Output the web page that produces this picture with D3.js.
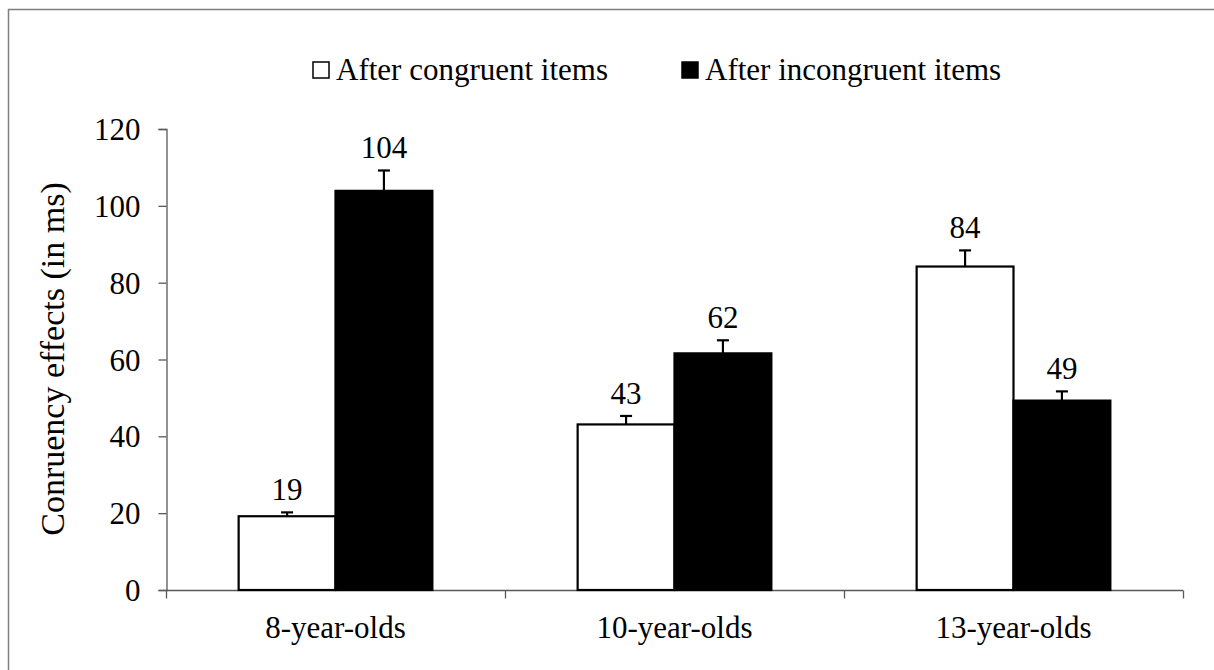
<!DOCTYPE html>
<html>
<head>
<meta charset="utf-8">
<script src="https://cdn.jsdelivr.net/npm/d3@7"></script>
</head>
<body style="margin:0">
<svg id="chart" width="1214" height="670"></svg>
<script>
// chart data
const groups = ["8-year-olds", "10-year-olds", "13-year-olds"]
const series = ["After congruent items", "After incongruent items"]
const congruent = [19.2, 43.1, 84.2]
const incongruent = [103.9, 61.6, 49.3]
const congruentErr = [1.0, 2.2, 4.2]
const incongruentErr = [5.3, 3.4, 2.4]
const labels = [["19", "104"], ["43", "62"], ["84", "49"]]
const yTicks = [0, 20, 40, 60, 80, 100, 120]
const fills = ["#fff", "#000"]

const svg = d3.select("#chart")

// outer frame (runs off the right/bottom edge like the original)
svg.append("rect").attr("x", 8.5).attr("y", 9.5).attr("width", 1400).attr("height", 900)
  .attr("fill", "none").attr("stroke", "#7f7f7f").attr("stroke-width", 1.5)

let x = d3.scaleBand().domain(groups).range([166, 1183]).padding(0)
let xSub = d3.scaleBand().domain(series).range([0, x.bandwidth()]).paddingInner(0).paddingOuter(0.75)
let y = d3.scaleLinear().domain([0, 120]).range([590, 129])

// y axis
let yAxis = d3.axisLeft(y).tickValues(yTicks).tickSize(8).tickPadding(18)
let gy = svg.append("g").attr("transform", "translate(166.5,0)").call(yAxis)
gy.attr("font-family", null).attr("font-size", null)
gy.select(".domain").attr("stroke", "#595959").attr("stroke-width", 1.3)
gy.selectAll(".tick line").attr("stroke", "#595959").attr("stroke-width", 1.3)
gy.selectAll("text").attr("dy", "0.34em")

// x axis - ticks sit on the group boundaries
let gx = svg.append("g").attr("transform", "translate(0,590.5)")
gx.append("line").attr("x1", 166).attr("x2", 1183).attr("stroke", "#595959").attr("stroke-width", 1.3)
let bounds = [x(groups[0])].concat(groups.map(g => x(g) + x.bandwidth()))
gx.selectAll(".bt").data(bounds).join("line")
  .attr("x1", d => d + 0.5).attr("x2", d => d + 0.5).attr("y1", 0).attr("y2", 8)
  .attr("stroke", "#595959").attr("stroke-width", 1.3)
gx.selectAll(".cat").data(groups).join("text")
  .attr("x", d => x(d) + x.bandwidth() / 2).attr("y", 47)
  .attr("text-anchor", "middle").text(d => d)

// bars
const rows = []
groups.forEach((g, i) => {
  rows.push({ g, s: series[0], v: congruent[i], e: congruentErr[i], lab: labels[i][0], k: 0 })
  rows.push({ g, s: series[1], v: incongruent[i], e: incongruentErr[i], lab: labels[i][1], k: 1 })
})

svg.selectAll(".bar").data(rows).join("rect")
  .attr("x", d => x(d.g) + xSub(d.s))
  .attr("y", d => y(d.v))
  .attr("width", xSub.bandwidth())
  .attr("height", d => y(0) - y(d.v))
  .attr("fill", d => fills[d.k]).attr("stroke", "#000").attr("stroke-width", 2.2)

// error bars
let cx = d => x(d.g) + xSub(d.s) + xSub.bandwidth() / 2
svg.selectAll(".err").data(rows).join("line")
  .attr("x1", cx).attr("x2", cx).attr("y1", d => y(d.v)).attr("y2", d => y(d.v + d.e))
  .attr("stroke", "#000").attr("stroke-width", 2.2)
svg.selectAll(".cap").data(rows).join("line")
  .attr("x1", d => cx(d) - 6).attr("x2", d => cx(d) + 6)
  .attr("y1", d => y(d.v + d.e)).attr("y2", d => y(d.v + d.e))
  .attr("stroke", "#000").attr("stroke-width", 2.2)

// value labels
svg.selectAll(".val").data(rows).join("text")
  .attr("x", cx).attr("y", d => y(d.v + d.e) - 12)
  .attr("text-anchor", "middle").text(d => d.lab)

// legend
const legX = [312, 681]
let leg = svg.selectAll(".leg").data(series).join("g")
  .attr("transform", (d, i) => `translate(${legX[i]},61)`)
leg.append("rect").attr("x", 1).attr("y", 1).attr("width", 16).attr("height", 16)
  .attr("fill", (d, i) => fills[i]).attr("stroke", "#000").attr("stroke-width", 1.5)
leg.append("text").attr("x", 24).attr("y", 19).text(d => d)

// same face for every label
svg.selectAll("text").style("font-family", "Liberation Serif")
  .style("font-size", "31px").style("fill", "#000")

// y title
svg.append("text").attr("transform", "translate(64,359) rotate(-90)")
  .attr("text-anchor", "middle")
  .style("font-family", "Liberation Serif").style("font-size", "34px")
  .text("Conruency effects (in ms)")
</script>
</body>
</html>
